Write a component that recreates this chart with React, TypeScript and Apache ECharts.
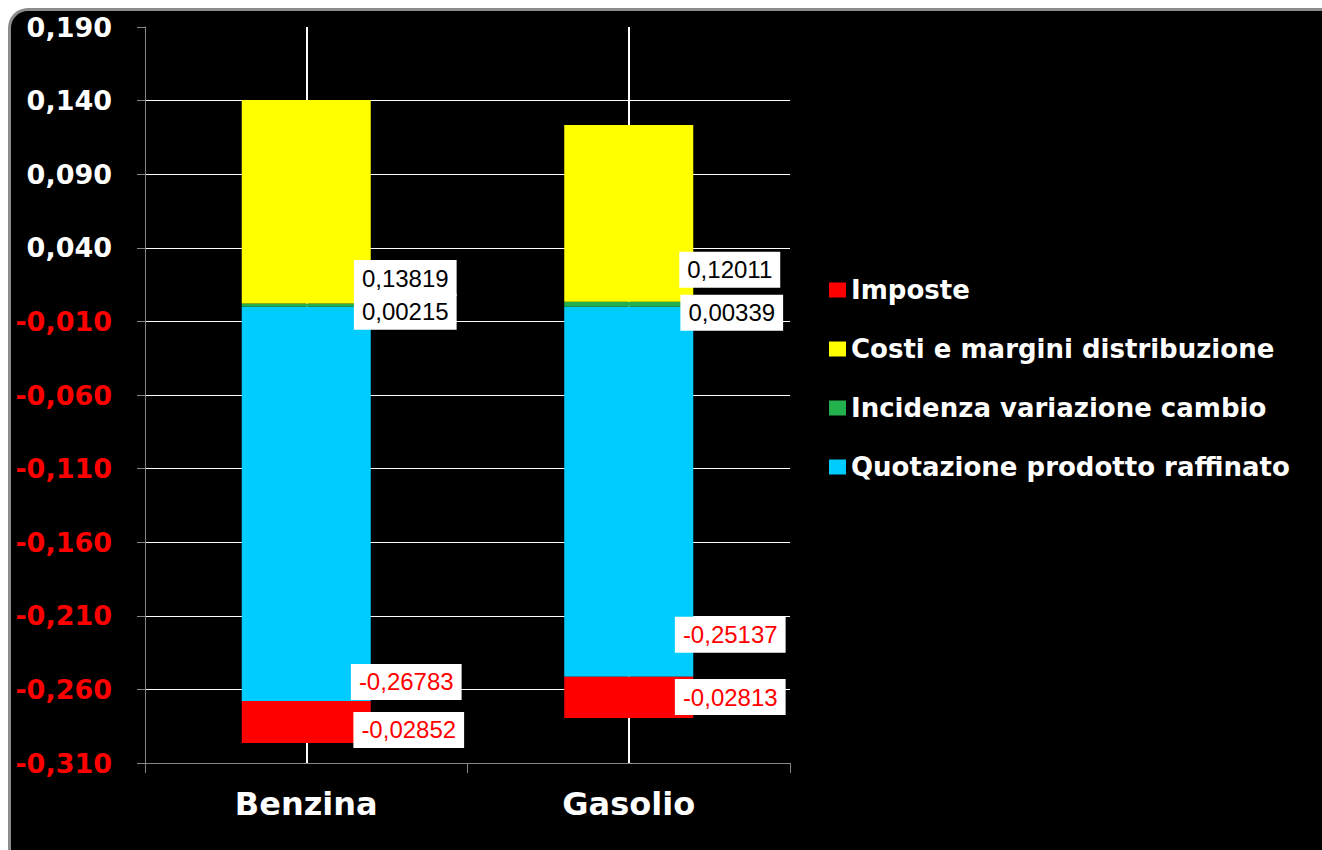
import React, { useEffect, useRef } from "react";
import * as echarts from "echarts";

const categories = ["Benzina", "Gasolio"];
const quotazione = [-0.26783, -0.25137];
const incidenza = [0.00215, 0.00339];
const costi = [0.13819, 0.12011];
const imposte = [-0.02852, -0.02813];
const yTickLabels = [
  "-0,310", "-0,260", "-0,210", "-0,160", "-0,110", "-0,060",
  "-0,010", "0,040", "0,090", "0,140", "0,190",
];
const legendNames = [
  "Imposte",
  "Costi e margini distribuzione",
  "Incidenza variazione cambio",
  "Quotazione prodotto raffinato",
];

const fmt = (v: number) => v.toFixed(5).replace(".", ",");

export default function App() {
  const ref = useRef<HTMLDivElement>(null);
  useEffect(() => {
    if (!ref.current) return;
    const chart = echarts.init(ref.current, null, { renderer: "svg" });
    const mk = (
      name: string,
      values: number[],
      color: string,
      offsets: number[][],
      textColor: string
    ) => ({
      name,
      type: "bar",
      stack: "total",
      barWidth: "40%",
      xAxisIndex: 0,
      yAxisIndex: 0,
      itemStyle: { color },
      data: values.map((v, i) => ({ value: v, label: { offset: offsets[i] } })),
      label: {
        show: true,
        position: ["50%", "100%"],
        align: "center",
        verticalAlign: "middle",
        formatter: (p: any) => fmt(p.value),
        backgroundColor: "#ffffff",
        color: textColor,
        fontFamily: "Liberation Sans",
        fontSize: 24,
        lineHeight: 24,
        padding: [6, 8, 6, 8],
      },
    });
    const option: any = {
      animation: false,
      grid: { left: 145, right: 532, top: 27, bottom: 87, containLabel: false },
      legend: {
        orient: "vertical",
        left: 829,
        top: 277,
        padding: 0,
        itemWidth: 17,
        itemHeight: 15,
        itemGap: 33,
        icon: "rect",
        selectedMode: false,
        data: legendNames,
        textStyle: {
          color: "#ffffff",
          fontFamily: "DejaVu Sans",
          fontWeight: "bold",
          fontSize: 26,
          lineHeight: 26,
        },
      },
      xAxis: [
        {
          type: "category",
          data: categories,
          axisLine: { onZero: false, lineStyle: { color: "#868686", width: 1 } },
          axisTick: { show: true, length: 10, lineStyle: { color: "#868686" } },
          axisLabel: {
            color: "#ffffff",
            fontFamily: "DejaVu Sans",
            fontWeight: "bold",
            fontSize: 32,
            margin: 25,
          },
          splitLine: { show: false },
        },
        {
          type: "category",
          data: ["a", "b", "c", "d", "e"],
          boundaryGap: false,
          position: "top",
          axisLine: { show: false },
          axisTick: { show: false },
          axisLabel: { show: false },
          splitLine: {
            show: true,
            interval: (i: number) => i === 1 || i === 3,
            lineStyle: { color: "#ffffff", width: 2 },
          },
        },
      ],
      yAxis: [
        { type: "value", min: -0.31, max: 0.19, show: false },
        {
          type: "category",
          data: yTickLabels,
          boundaryGap: false,
          position: "left",
          axisLine: { show: true, lineStyle: { color: "#868686" } },
          axisTick: { show: true, length: 8, interval: 0, lineStyle: { color: "#868686" } },
          axisLabel: {
            interval: 0,
            margin: 33,
            fontSize: 27,
            fontWeight: "bold",
            fontFamily: "DejaVu Sans",
            color: (v: string) => (v.startsWith("-") ? "#ff0000" : "#ffffff"),
          },
          splitLine: {
            show: true,
            interval: (i: number) => i > 0 && i < yTickLabels.length - 1,
            lineStyle: { color: "#ffffff", width: 1 },
          },
        },
      ],
      series: [
        mk("Quotazione prodotto raffinato", quotazione, "#00ccff", [[100, -19], [101.5, -42]], "#ff0000"),
        mk("Incidenza variazione cambio", incidenza, "#22b14c", [[99, 5], [103, 6]], "#000000"),
        mk("Costi e margini distribuzione", costi, "#ffff00", [[99, -25.5], [101, -32]], "#000000"),
        mk("Imposte", imposte, "#ff0000", [[102.5, -13], [101.5, -21]], "#ff0000"),
      ],
    };
    chart.setOption(option);
    return () => chart.dispose();
  }, []);

  return (
    <div
      style={{
        position: "fixed",
        left: 0,
        top: 0,
        width: 1322,
        height: 850,
        overflow: "hidden",
        background: "#ffffff",
      }}
    >
      <div
        style={{
          position: "absolute",
          left: 8,
          top: 8,
          width: 1400,
          height: 920,
          background: "#000000",
          borderTop: "3px solid #8c8c8c",
          borderLeft: "3px solid #8c8c8c",
          borderTopLeftRadius: 20,
        }}
      />
      <div
        ref={ref}
        style={{ position: "absolute", left: 0, top: 0, width: 1322, height: 850 }}
      />
    </div>
  );
}
